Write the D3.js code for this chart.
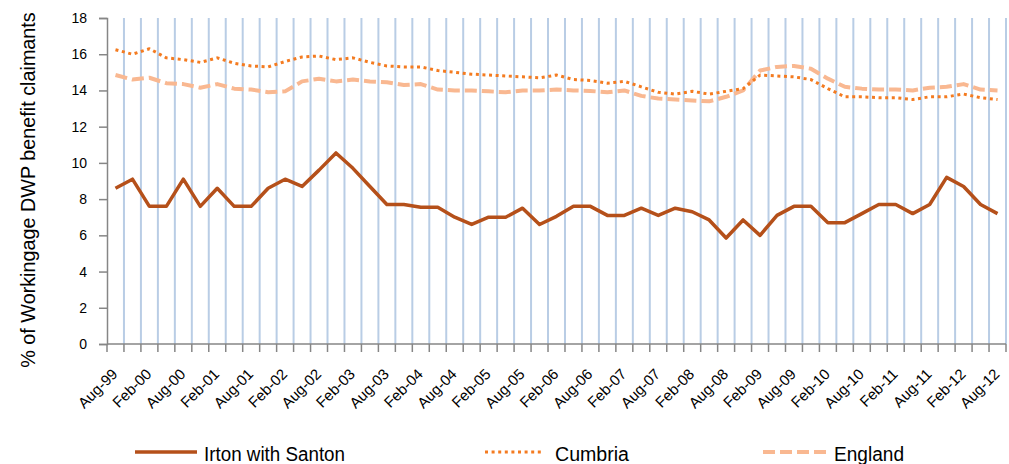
<!DOCTYPE html>
<html>
<head>
<meta charset="utf-8">
<script src="https://cdn.jsdelivr.net/npm/d3@7"></script>
<style>
  body { margin: 0; background: #fff; }
  text { font-family: "Liberation Sans", Arial, sans-serif; fill: #000; }
</style>
</head>
<body>
<svg id="chart" width="1009" height="464"></svg>
<script>
// quarterly periods
const quarters = [
  "Aug-99","Nov-99","Feb-00","May-00","Aug-00","Nov-00","Feb-01","May-01","Aug-01","Nov-01",
  "Feb-02","May-02","Aug-02","Nov-02","Feb-03","May-03","Aug-03","Nov-03","Feb-04","May-04",
  "Aug-04","Nov-04","Feb-05","May-05","Aug-05","Nov-05","Feb-06","May-06","Aug-06","Nov-06",
  "Feb-07","May-07","Aug-07","Nov-07","Feb-08","May-08","Aug-08","Nov-08","Feb-09","May-09",
  "Aug-09","Nov-09","Feb-10","May-10","Aug-10","Nov-10","Feb-11","May-11","Aug-11","Nov-11",
  "Feb-12","May-12","Aug-12"
];
// only every second quarter gets a label
const shownLabels = quarters.filter((q, i) => i % 2 === 0);

const irton = [
  8.6, 9.1, 7.6, 7.6, 9.1, 7.6, 8.6, 7.6, 7.6, 8.6,
  9.1, 8.7, 9.6, 10.55, 9.7, 8.7, 7.7, 7.7, 7.55, 7.55,
  7.0, 6.6, 7.0, 7.0, 7.5, 6.6, 7.05, 7.6, 7.6, 7.1,
  7.1, 7.5, 7.1, 7.5, 7.3, 6.85, 5.85, 6.85, 6.0, 7.1,
  7.6, 7.6, 6.7, 6.7, 7.2, 7.7, 7.7, 7.2, 7.7, 9.2,
  8.7, 7.7, 7.2
];
const cumbria = [
  16.25, 16.0, 16.3, 15.8, 15.7, 15.55, 15.8, 15.5, 15.35, 15.3,
  15.6, 15.85, 15.9, 15.7, 15.8, 15.55, 15.35, 15.3, 15.3, 15.1,
  15.0, 14.9, 14.85, 14.8, 14.75, 14.7, 14.85, 14.6, 14.55, 14.4,
  14.5, 14.2, 13.9, 13.8, 13.95, 13.8, 13.95, 14.1, 14.85, 14.8,
  14.75, 14.6, 14.1, 13.65, 13.65, 13.6, 13.6, 13.5, 13.65, 13.65,
  13.8, 13.6, 13.5
];
const england = [
  14.85, 14.6, 14.7, 14.4, 14.35, 14.15, 14.35, 14.1, 14.05, 13.9,
  13.95, 14.5, 14.65, 14.5, 14.6, 14.5, 14.45, 14.3, 14.35, 14.05,
  14.0, 14.0, 13.95, 13.9, 14.0, 14.0, 14.05, 14.0, 13.97, 13.9,
  14.0, 13.7, 13.55, 13.5, 13.45, 13.4, 13.65, 14.0, 15.1, 15.3,
  15.35, 15.2, 14.65, 14.2, 14.1, 14.05, 14.05, 14.0, 14.15, 14.2,
  14.35, 14.05, 14.0
];
const yTicks = [0, 2, 4, 6, 8, 10, 12, 14, 16, 18];

const seriesNames = ["Irton with Santon", "Cumbria", "England"];
const seriesData = [irton, cumbria, england];

const styles = [
  { color: "#b5501a", width: 3.5, dash: null },
  { color: "#f47b20", width: 3, dash: "3,3.6" },
  { color: "#f9b891", width: 4, dash: "12,5" }
];

const svg = d3.select("#chart");
const plotLeft = 107, plotRight = 1006, plotTop = 18, plotBottom = 344;

const x = d3.scaleBand().domain(quarters).range([plotLeft, plotRight]).padding(0);
const y = d3.scaleLinear().domain([0, 18]).range([plotBottom, plotTop]);
const cx = q => x(q) + x.bandwidth() / 2;

// vertical gridlines at category boundaries
const bounds = quarters.slice(1).map(q => x(q)).concat([plotRight]);
svg.append("g")
  .selectAll("line")
  .data(bounds)
  .join("line")
  .attr("x1", d => d).attr("x2", d => d)
  .attr("y1", plotTop).attr("y2", plotBottom)
  .attr("stroke", "#b9cde5")
  .attr("stroke-width", 2);

// y axis
const yAxis = svg.append("g")
  .attr("transform", `translate(${plotLeft},0)`)
  .call(d3.axisLeft(y).tickValues(yTicks).tickSize(8).tickPadding(12).tickFormat(d3.format("d")));
yAxis.select(".domain").attr("stroke", "#868686").attr("stroke-width", 1.5);
yAxis.selectAll(".tick line").attr("stroke", "#868686").attr("stroke-width", 1.5);
yAxis.selectAll(".tick text").style("font-size", "14px").attr("fill", "#000");

// x axis line and ticks at boundaries
svg.append("line")
  .attr("x1", plotLeft).attr("x2", plotRight)
  .attr("y1", plotBottom).attr("y2", plotBottom)
  .attr("stroke", "#868686").attr("stroke-width", 1.5);
svg.append("g")
  .selectAll("line")
  .data([plotLeft].concat(bounds))
  .join("line")
  .attr("x1", d => d).attr("x2", d => d)
  .attr("y1", plotBottom).attr("y2", plotBottom + 8)
  .attr("stroke", "#868686").attr("stroke-width", 1.5);

// x labels
svg.append("g")
  .selectAll("text")
  .data(shownLabels)
  .join("text")
  .attr("transform", d => `translate(${cx(d) + 3},${plotBottom + 31}) rotate(-45)`)
  .attr("text-anchor", "end")
  .style("font-size", "15px")
  .text(d => d);

// y title
svg.append("text")
  .attr("transform", `translate(35,190) rotate(-90)`)
  .attr("text-anchor", "middle")
  .style("font-size", "19.8px")
  .text("% of Workingage DWP benefit claimants");

// series lines
const line = d3.line()
  .x((d, i) => cx(quarters[i]))
  .y(d => y(d));

[2, 1, 0].forEach(k => {
  svg.append("path")
    .datum(seriesData[k])
    .attr("d", line)
    .attr("fill", "none")
    .attr("stroke", styles[k].color)
    .attr("stroke-width", styles[k].width)
    .attr("stroke-linejoin", "round")
    .attr("stroke-dasharray", styles[k].dash);
});

// legend
const legendPos = [
  { x1: 135, x2: 197, tx: 204, w: 141 },
  { x1: 485, x2: 542, tx: 555, w: 74 },
  { x1: 763, x2: 828, tx: 834, w: 70 }
];
const legendY = 452;
seriesNames.forEach((name, k) => {
  svg.append("line")
    .attr("x1", legendPos[k].x1).attr("x2", legendPos[k].x2)
    .attr("y1", legendY).attr("y2", legendY)
    .attr("stroke", styles[k].color)
    .attr("stroke-width", styles[k].width)
    .attr("stroke-dasharray", styles[k].dash);
  svg.append("text")
    .attr("x", legendPos[k].tx)
    .attr("y", legendY + 9)
    .attr("textLength", legendPos[k].w)
    .attr("lengthAdjust", "spacingAndGlyphs")
    .style("font-size", "20px")
    .text(name);
});
</script>
</body>
</html>
